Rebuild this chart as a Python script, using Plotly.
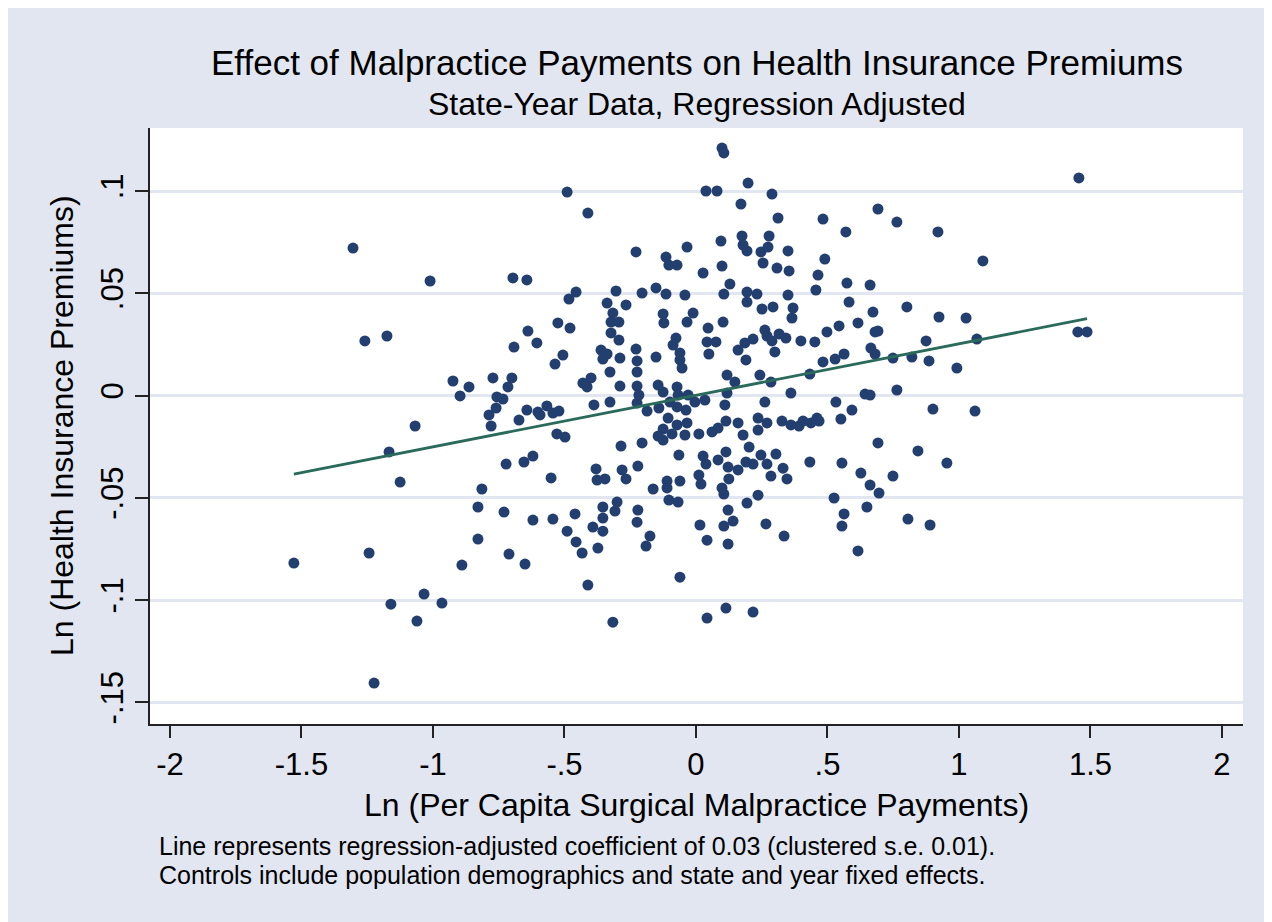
import plotly.graph_objects as go

# Ln per-capita surgical malpractice payments (x) and Ln health insurance premiums (y)
x_vals = [
 -1.304,-1.011,-1.259,-1.175,-0.924,-0.863,-0.897,-1.068,-1.167,-1.125,-0.814,-0.829,-0.829,-1.529,-1.243,-0.890,-1.034,-1.160,-0.966,-1.061,-1.224,
 -0.490,-0.411,-0.696,-0.643,-0.456,-0.483,-0.304,-0.338,-0.316,-0.323,-0.293,-0.525,-0.479,-0.639,-0.605,-0.692,-0.323,-0.293,-0.361,-0.338,-0.354,
 -0.289,-0.506,-0.536,-0.327,-0.772,-0.700,-0.715,-0.399,-0.430,-0.414,-0.289,-0.757,-0.734,-0.327,
 -0.760,-0.787,-0.779,-0.673,-0.643,-0.601,-0.593,-0.567,-0.544,-0.521,-0.388,-0.529,-0.498,-0.285,-0.722,-0.654,-0.620,-0.551,-0.380,-0.376,-0.346,
 -0.281,-0.730,-0.620,-0.544,-0.490,-0.460,-0.354,-0.308,-0.300,-0.354,-0.392,-0.354,-0.456,-0.433,-0.373,-0.711,-0.650,-0.411,-0.316,
 0.099,0.106,0.038,0.080,0.198,0.171,-0.228,-0.034,-0.114,-0.103,-0.072,0.095,0.175,0.179,0.194,0.247,0.027,0.099,0.129,0.255,-0.205,-0.152,-0.114,
 -0.042,0.106,0.194,0.194,0.232,-0.266,-0.125,-0.122,-0.011,-0.034,0.103,0.251,0.046,-0.076,-0.087,0.042,0.076,0.049,-0.061,-0.061,-0.053,-0.228,
 -0.224,-0.224,-0.152,0.160,0.186,0.217,0.190,0.118,0.148,0.243,-0.224,-0.217,-0.144,-0.125,-0.072,-0.068,-0.030,0.118,
 -0.224,-0.186,-0.141,-0.099,-0.072,-0.038,-0.004,0.034,0.110,0.236,-0.106,-0.072,-0.034,-0.125,-0.144,-0.125,-0.091,-0.042,0.011,0.061,0.084,0.114,
 0.160,0.179,0.202,0.236,-0.205,-0.065,0.027,0.038,0.084,0.114,0.122,0.160,0.190,0.217,0.247,-0.266,-0.221,-0.163,-0.110,-0.110,-0.061,0.011,0.019,
 0.125,0.099,0.106,-0.103,-0.068,0.194,0.236,-0.221,-0.224,0.122,0.141,0.106,0.015,0.042,0.122,-0.175,-0.190,-0.061,0.114,0.042,0.217,
 0.289,0.312,0.483,0.570,0.692,0.764,0.278,0.274,0.350,0.308,0.354,0.490,0.464,0.456,0.574,0.662,0.350,0.582,0.673,0.293,0.369,0.365,0.544,0.616,
 0.681,0.692,0.262,0.270,0.289,0.316,0.342,0.300,0.399,0.452,0.498,0.665,0.681,0.563,0.529,0.483,0.749,0.285,0.433,0.361,0.643,0.662,0.764,
 0.262,0.532,0.593,0.551,0.270,0.327,0.361,0.392,0.407,0.437,0.460,0.468,0.692,0.304,0.270,0.331,0.285,0.346,0.433,0.555,0.627,0.662,0.696,0.749,
 0.525,0.563,0.555,0.650,0.266,0.335,0.616,
 1.456,0.920,1.091,0.802,0.924,1.027,0.875,1.068,1.452,1.487,0.821,0.886,0.992,0.901,1.061,0.844,0.954,0.806,0.890,
]
y_vals = [
 0.0721,0.0560,0.0267,0.0291,0.0071,0.0042,-0.0002,-0.0149,-0.0276,-0.0423,-0.0457,-0.0545,-0.0702,-0.0819,-0.0770,-0.0829,-0.0971,-0.1020,-0.1015,-0.1103,-0.1406,
 0.0995,0.0892,0.0575,0.0565,0.0506,0.0472,0.0511,0.0452,0.0403,0.0359,0.0359,0.0355,0.0330,0.0315,0.0257,0.0237,0.0306,0.0271,0.0222,0.0203,0.0178,
 0.0183,0.0198,0.0154,0.0115,0.0086,0.0086,0.0042,0.0086,0.0061,0.0042,0.0046,-0.0007,-0.0017,-0.0032,
 -0.0061,-0.0095,-0.0149,-0.0120,-0.0071,-0.0081,-0.0095,-0.0051,-0.0086,-0.0076,-0.0046,-0.0188,-0.0203,-0.0247,-0.0335,-0.0325,-0.0296,-0.0403,-0.0359,-0.0413,-0.0408,
 -0.0364,-0.0570,-0.0609,-0.0604,-0.0663,-0.0579,-0.0545,-0.0565,-0.0521,-0.0599,-0.0643,-0.0663,-0.0716,-0.0770,-0.0746,-0.0775,-0.0824,-0.0927,-0.1108,
 0.1210,0.1186,0.1000,0.1000,0.1039,0.0936,0.0702,0.0726,0.0677,0.0638,0.0638,0.0755,0.0780,0.0736,0.0707,0.0702,0.0599,0.0633,0.0545,0.0648,0.0501,0.0526,0.0496,
 0.0491,0.0496,0.0506,0.0457,0.0496,0.0443,0.0399,0.0355,0.0403,0.0359,0.0359,0.0423,0.0330,0.0281,0.0247,0.0262,0.0262,0.0203,0.0208,0.0174,0.0134,0.0227,
 0.0169,0.0115,0.0188,0.0222,0.0257,0.0276,0.0174,0.0100,0.0066,0.0100,0.0046,0.0002,0.0051,0.0017,0.0042,0.0002,0.0002,0.0012,
 -0.0037,-0.0076,-0.0061,-0.0032,-0.0056,-0.0071,-0.0032,-0.0022,-0.0046,-0.0110,-0.0110,-0.0144,-0.0134,-0.0164,-0.0198,-0.0218,-0.0188,-0.0193,-0.0188,-0.0178,-0.0159,-0.0125,
 -0.0134,-0.0193,-0.0252,-0.0169,-0.0232,-0.0291,-0.0296,-0.0335,-0.0315,-0.0276,-0.0350,-0.0364,-0.0325,-0.0335,-0.0291,-0.0408,-0.0345,-0.0457,-0.0418,-0.0452,-0.0418,-0.0389,-0.0433,
 -0.0408,-0.0452,-0.0482,-0.0511,-0.0521,-0.0526,-0.0487,-0.0560,-0.0619,-0.0560,-0.0614,-0.0638,-0.0633,-0.0707,-0.0726,-0.0687,-0.0736,-0.0888,-0.1039,-0.1088,-0.1059,
 0.0985,0.0868,0.0863,0.0800,0.0912,0.0848,0.0780,0.0726,0.0707,0.0623,0.0609,0.0667,0.0589,0.0516,0.0550,0.0540,0.0491,0.0457,0.0408,0.0433,0.0428,0.0379,0.0340,0.0355,
 0.0311,0.0315,0.0320,0.0291,0.0267,0.0301,0.0281,0.0213,0.0267,0.0262,0.0311,0.0232,0.0203,0.0203,0.0178,0.0164,0.0183,0.0066,0.0105,0.0012,0.0007,0.0002,0.0027,
 -0.0032,-0.0032,-0.0071,-0.0115,-0.0134,-0.0125,-0.0144,-0.0149,-0.0125,-0.0134,-0.0110,-0.0125,-0.0232,-0.0286,-0.0335,-0.0355,-0.0394,-0.0408,-0.0325,-0.0330,-0.0379,-0.0438,-0.0477,-0.0394,
 -0.0501,-0.0579,-0.0638,-0.0545,-0.0628,-0.0687,-0.0760,
 0.1064,0.0800,0.0658,0.0433,0.0384,0.0379,0.0267,0.0276,0.0311,0.0311,0.0188,0.0169,0.0134,-0.0066,-0.0076,-0.0271,-0.0330,-0.0604,-0.0633,
]

# Fitted regression line (intercept, slope) as drawn
fit_intercept = 0.0001
fit_slope = 0.0252

x_ticks = [-2, -1.5, -1, -0.5, 0, 0.5, 1, 1.5, 2]
x_tick_labels = ["-2", "-1.5", "-1", "-.5", "0", ".5", "1", "1.5", "2"]
y_ticks = [-0.15, -0.10, -0.05, 0, 0.05, 0.10]
y_tick_labels = ["-.15", "-.1", "-.05", "0", ".05", ".1"]

title_text = "Effect of Malpractice Payments on Health Insurance Premiums"
subtitle_text = "State-Year Data, Regression Adjusted"
x_title = "Ln (Per Capita Surgical Malpractice Payments)"
y_title = "Ln (Health Insurance Premiums)"
note_lines = [
    "Line represents regression-adjusted coefficient of 0.03 (clustered s.e. 0.01).",
    "Controls include population demographics and state and year fixed effects.",
]

FONT = "Liberation Sans, Arial, sans-serif"
BG = "#e1e6f0"
NAVY = "#233f6f"
GREEN = "#2a6a5a"

fx = [min(x_vals), max(x_vals)]
fy = [fit_intercept + fit_slope * v for v in fx]

fig = go.Figure()
fig.add_trace(go.Scatter(x=x_vals, y=y_vals, mode="markers",
                         marker=dict(size=11, color=NAVY, line=dict(width=0)),
                         showlegend=False, hoverinfo="x+y"))
fig.add_trace(go.Scatter(x=fx, y=fy, mode="lines",
                         line=dict(color=GREEN, width=2.8),
                         showlegend=False))

# page body adds an 8px offset; layout below is in figure pixels
OFF = 8
W, H = 1272 - OFF, 922 - OFF
L, T = 150 - OFF, 128 - OFF
R = W - (1243 - OFF)
B = H - (724 - OFF)
pw, ph = W - L - R, H - T - B

def px_x(p):
    return (p - OFF - L) / pw

def px_y(p):
    return (H - B - (p - OFF)) / ph

annotations = [
    dict(text=title_text, x=0.5, y=px_y(62), xref="paper", yref="paper", showarrow=False,
         xanchor="center", yanchor="middle", font=dict(family=FONT, size=35, color="black")),
    dict(text=subtitle_text, x=0.5, y=px_y(104), xref="paper", yref="paper", showarrow=False,
         xanchor="center", yanchor="middle", font=dict(family=FONT, size=32, color="black")),
    dict(text=x_title, x=0.5, y=px_y(805), xref="paper", yref="paper", showarrow=False,
         xanchor="center", yanchor="middle", font=dict(family=FONT, size=32, color="black")),
    dict(text=y_title, x=px_x(62), y=0.5, xref="paper", yref="paper", showarrow=False, textangle=-90,
         xanchor="center", yanchor="middle", font=dict(family=FONT, size=32, color="black")),
    dict(text=note_lines[0], x=px_x(157), y=px_y(846), xref="paper", yref="paper", showarrow=False,
         xanchor="left", yanchor="middle", font=dict(family=FONT, size=25, color="black")),
    dict(text=note_lines[1], x=px_x(157), y=px_y(874.5), xref="paper", yref="paper", showarrow=False,
         xanchor="left", yanchor="middle", font=dict(family=FONT, size=25, color="black")),
]

fig.update_layout(
    width=W, height=H,
    margin=dict(l=L, r=R, t=T, b=B, pad=0),
    paper_bgcolor=BG, plot_bgcolor="white",
    annotations=annotations,
    xaxis=dict(range=[-2.076, 2.080], tickvals=x_ticks, ticktext=x_tick_labels,
               showgrid=False, zeroline=False, showline=True, linecolor="#222", linewidth=1.5,
               ticks="outside", ticklen=12, tickwidth=1.5, tickcolor="#222",
               tickfont=dict(family=FONT, size=31, color="black")),
    yaxis=dict(range=[-0.1606, 0.1308], tickvals=y_ticks, ticktext=y_tick_labels,
               showgrid=True, gridcolor=BG, gridwidth=2.5, zeroline=False,
               showline=True, linecolor="#222", linewidth=1.5,
               ticks="outside", ticklen=13, tickwidth=1.5, tickcolor="#222", tickangle=-90,
               tickfont=dict(family=FONT, size=31, color="black")),
)

fig.write_html("out.html")
